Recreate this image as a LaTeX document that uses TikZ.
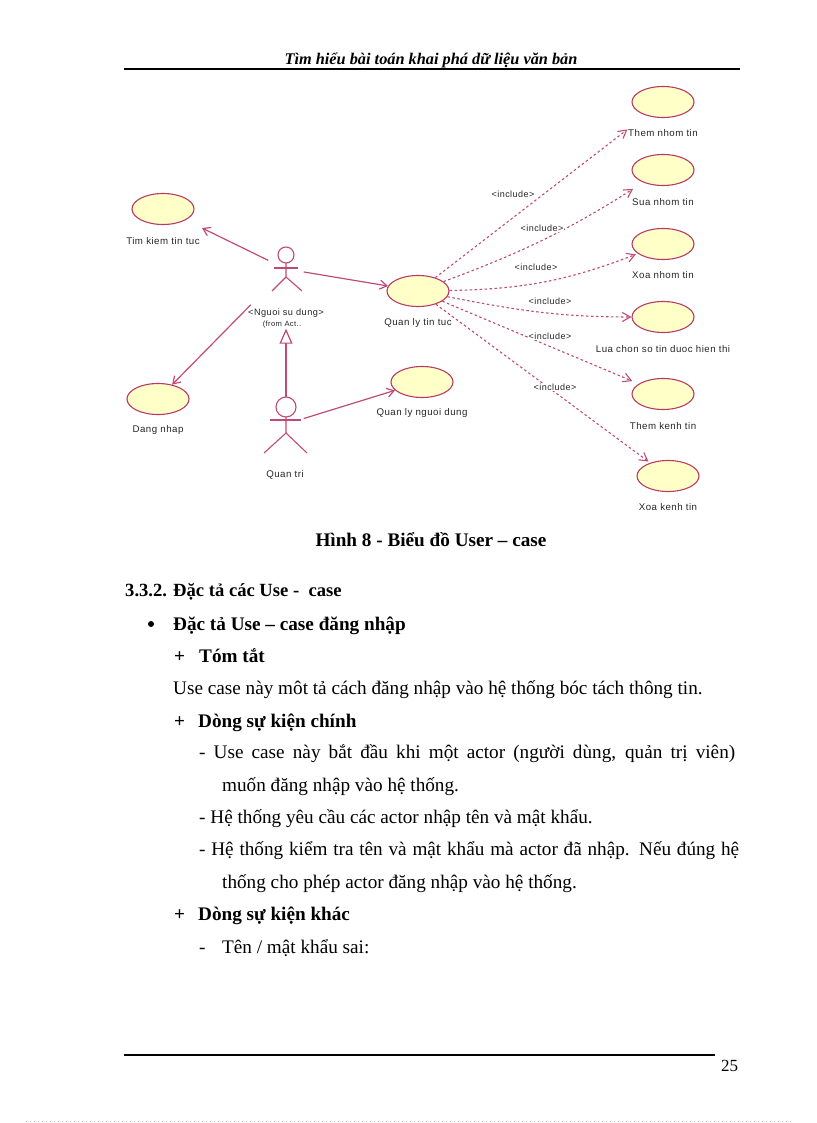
\documentclass[tikz,border=0pt]{standalone}
\usepackage{fontspec}
\setmainfont{Liberation Serif}
\newfontfamily\umlfont[LetterSpace=5]{Liberation Sans}
\usetikzlibrary{arrows.meta}
\usetikzlibrary{shapes.geometric}
\definecolor{umlline}{HTML}{C04A76}
\definecolor{umledge}{HTML}{B83A66}
\definecolor{umlfill}{HTML}{FFFFC8}
\tikzset{
	usecase/.style={ellipse, draw=umledge, fill=umlfill, line width=1.1pt, minimum width=62pt, minimum height=31pt, inner sep=0pt},
	umltext/.style={font=\umlfont\fontsize{9.7}{11}\selectfont, text=black!85, inner sep=0pt},
	actorbox/.style={minimum width=35pt, minimum height=54pt, inner sep=0pt},
	actorline/.style={draw=umlline, line width=1.1pt},
	assoc/.style={draw=umlline, line width=1.2pt, -{Straight Barb[length=7pt,width=9pt]}},
	incl/.style={draw=umlline, line width=1.1pt, dash pattern=on 2.5pt off 2.5pt, -{Straight Barb[length=8pt,width=9pt]}},
	gener/.style={draw=umlline, line width=1.2pt, -{Triangle[open,length=15pt,width=13pt]}},
	bodytext/.style={anchor=base west, inner sep=0pt, font=\fontsize{19.2}{22}\selectfont},
	boldtext/.style={bodytext, font=\fontsize{19.2}{22}\selectfont\bfseries},
	rule/.style={line width=1.8pt}
}
\begin{document}
\begin{tikzpicture}[x=1pt,y=-1pt]
	\useasboundingbox (0,0) rectangle (816,1123);
	% page head and foot
	\node[anchor=base, inner sep=0pt, font=\fontsize{16.3}{18}\selectfont\bfseries\itshape] (head) at (431,65) {Tìm hiểu bài toán khai phá dữ liệu văn bản};
	\coordinate (headl) at (124,69);
	\coordinate (headr) at (740,69);
	\draw[rule] (headl) -- (headr);
	\coordinate (footl) at (124,1055);
	\coordinate (footr) at (715,1055);
	\draw[rule] (footl) -- (footr);
	\node[bodytext, font=\fontsize{17}{20}\selectfont] (pageno) at (721,1071) {25};
	\coordinate (edgel) at (26,1121);
	\coordinate (edger) at (791,1121);
	\draw[black!25, line width=0.5pt, dash pattern=on 1pt off 3pt] (edgel) -- (edger);
	% use cases with their names
	\foreach \name/\x/\y/\ly/\txt in {search/163/209/241/Tim kiem tin tuc, login/158/399/430/Dang nhap, mgr/418/291/323/Quan ly tin tuc, usermgr/422/382/413/Quan ly nguoi dung, addgroup/663/102/133/Them nhom tin, editgroup/663/170/202/Sua nhom tin, delgroup/663/244/275/Xoa nhom tin, choose/663/317/349/Lua chon so tin duoc hien thi, addchan/663/394/426/Them kenh tin, delchan/668/476/507/Xoa kenh tin}{
		\node[usecase] (\name) at (\x,\y) {};
		\node[umltext] (\name txt) at (\x,\ly) {\txt};
	};
	% actors
	\node[actorbox] (user) at (286,269) {};
	\node[actorbox] (admin) at (286,424) {};
	\draw[actorline] (286,255) circle (8);
	\draw[actorline] (286,263) -- (286,277) -- (272,291);
	\draw[actorline] (286,277) -- (302,291);
	\draw[actorline] (274,268) -- (298,268);
	\draw[actorline] (286,407) circle (10);
	\draw[actorline] (286,417) -- (286,433) -- (264,453);
	\draw[actorline] (286,433) -- (307,453);
	\draw[actorline] (270,420) -- (301,420);
	\node[umltext, font=\umlfont\fontsize{9.2}{11}\selectfont] (username) at (286,313) {<Nguoi su dung>};
	\node[umltext, font=\umlfont\fontsize{7.6}{9}\selectfont] (userfrom) at (282,325) {(from Act..};
	\node[umltext] (adminname) at (285,475) {Quan tri};
	% associations
	\draw[assoc, shorten >=18pt] (user) -- (search);
	\draw[assoc, shorten <=25pt] (user) -- (login);
	\draw[assoc] (user) -- (mgr);
	\draw[assoc] (admin) -- (usermgr);
	\draw[gener] (admin.north) -- (admin.north |- userfrom.south);
	% includes
	\draw[incl, shorten >=23pt] (mgr) -- (addgroup);
	\draw[incl, shorten >=12pt] (mgr) to[bend right=6] (editgroup);
	\draw[incl, shorten >=2pt] (mgr) to[bend right=10] (delgroup);
	\draw[incl] (mgr) to[out=-11, in=180] (choose);
	\draw[incl, shorten >=7pt] (mgr) -- (addchan);
	\draw[incl, shorten >=2pt] (mgr) -- (delchan);
	\foreach \i/\x/\y in {1/513/194, 2/542/228, 3/536/267, 4/550/301, 5/550/336, 6/555/387}{
		\node[umltext, font=\umlfont\fontsize{9}{11}\selectfont, fill=white, inner sep=0.5pt] (incl\i) at (\x,\y) {<include>};
	};
	% text below the figure
	\node[boldtext, anchor=base] (caption) at (431,546) {Hình 8 - Biểu đồ User – case};
	\node[boldtext, font=\fontsize{18.6}{22}\selectfont\bfseries] (sect) at (125,596) {3.3.2. Đặc tả các Use -\ \ case};
	\node[circle, fill=black, inner sep=0pt, minimum size=6pt] (dot) at (151,624) {};
	\node[boldtext] (sub) at (173,630) {Đặc tả Use – case đăng nhập};
	\node[boldtext] (plusa) at (174,662) {+};
	\node[boldtext] (suma) at (199,662) {Tóm tắt};
	\node[bodytext] (sumb) at (173,694) {Use case này môt tả cách đăng nhập vào hệ thống bóc tách thông tin.};
	\node[boldtext] (plusb) at (174,727) {+};
	\node[boldtext] (flow) at (198,727) {Dòng sự kiện chính};
	\node[bodytext] (flowa) at (199,758) {\makebox[536pt][s]{- Use case này bắt đầu khi một actor (người dùng, quản trị viên)}};
	\node[bodytext] (flowb) at (222,791) {muốn đăng nhập vào hệ thống.};
	\node[bodytext] (flowc) at (199,823) {- Hệ thống yêu cầu các actor nhập tên và mật khẩu.};
	\node[bodytext] (flowd) at (199,855) {\makebox[540pt][s]{- Hệ thống kiểm tra tên và mật khẩu mà actor đã nhập. Nếu đúng hệ}};
	\node[bodytext] (flowe) at (222,888) {thống cho phép actor đăng nhập vào hệ thống.};
	\node[boldtext] (plusc) at (174,920) {+};
	\node[boldtext] (other) at (198,920) {Dòng sự kiện khác};
	\node[bodytext] (dash) at (199,953) {-};
	\node[bodytext] (othera) at (222,953) {Tên / mật khẩu sai:};
\end{tikzpicture}
\end{document}
